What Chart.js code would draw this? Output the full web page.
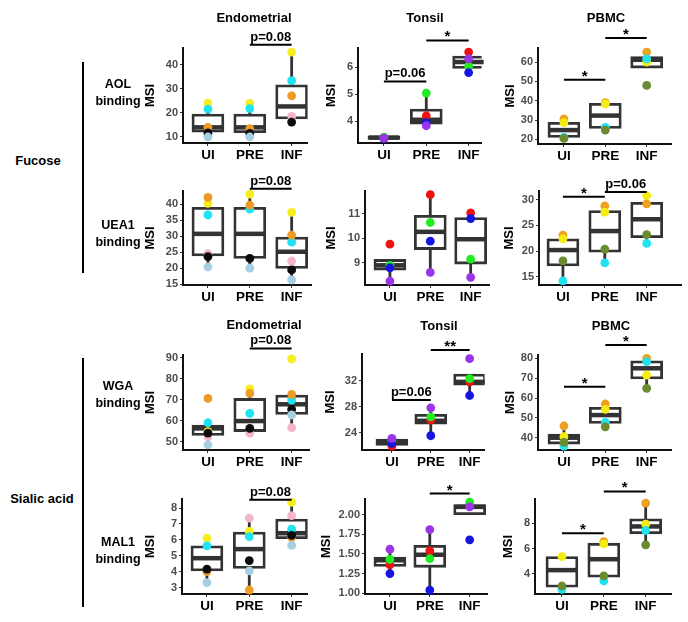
<!DOCTYPE html>
<html>
<head>
<meta charset="utf-8">
<script src="https://cdn.jsdelivr.net/npm/chart.js@4.4.1/dist/chart.umd.min.js"></script>
<style>
body{margin:0;background:#fff;}
#wrap{position:relative;width:688px;height:622px;overflow:hidden;font-family:"Liberation Sans",Arial,sans-serif;font-weight:bold;color:#000;}
#wrap canvas{position:absolute;}
.ttl{position:absolute;font-size:13px;white-space:nowrap;transform:translate(-50%,-50%);}
.rowlbl{position:absolute;font-size:12.5px;text-align:center;line-height:17px;white-space:nowrap;transform:translate(-50%,-50%);}
.vline{position:absolute;width:2px;background:#000;}
</style>
</head>
<body>
<div id="wrap"></div>
<script>
const groups = ['UI', 'PRE', 'INF'];

// one colour per donor, values below follow the same order
const endoColors = ['#f6ee1e', '#1fe3f0', '#ee9b26', '#f3b6c7', '#0b0b0b', '#a5cfe2'];
const tonsilColors = ['#ee1313', '#21ec21', '#1515df', '#9b35e8'];
const pbmcColors = ['#eea021', '#f4ec12', '#21e3f0', '#6a8b2f'];

// ---- AOL binding ----
const aolEndo = [[24.1, 21.6, 14.0, null, 11.7, 10.0], [24.0, 21.8, 13.5, null, 11.5, 10.0], [45.3, 33.4, 27.1, 18.6, 16.2, null]];
const aolEndoBox = [[10, 12, 14, 19.5, 24], [10, 11.8, 14, 19.5, 24], [16.2, 17.5, 22.7, 31.7, 45.3]];
const aolEndoTicks = ['10', '20', '30', '40'];
const aolEndoRange = [7.5, 47];
const aolEndoSig = [[2, 3, 48.3, 'p=0.08']];

const aolTon = [[3.40, 3.42, 3.36, 3.38], [4.21, 5.05, 3.95, 3.84], [6.57, 6.04, 5.81, 6.32]];
const aolTonBox = [[3.33, 3.33, 3.40, 3.47, 3.47], [3.84, 3.90, 4.06, 4.46, 5.05], [5.81, 5.96, 6.20, 6.42, 6.57]];
const aolTonTicks = ['4', '5', '6'];
const aolTonRange = [3.2, 6.72];
const aolTonSig = [[1, 2, 5.48, 'p=0.06'], [2, 3, 7.0, '*']];

const aolPb = [[30.6, 28.7, 21.0, 20.5], [39.0, 38.4, 26.2, 24.8], [65.2, 60.0, 61.7, 47.9]];
const aolPbBox = [[20.5, 21, 24.8, 28.8, 30.6], [24.8, 25.7, 32.3, 38.7, 39], [56.9, 56.9, 61.2, 62.9, 65.2]];
const aolPbTicks = ['20', '30', '40', '50', '60'];
const aolPbRange = [17.6, 67.3];
const aolPbSig = [[1, 2, 50.8, '*'], [2, 3, 72.5, '*']];

// ---- UEA1 binding ----
const ueaEndo = [[40.3, 36.7, 42.2, 24.6, 23.7, 20.5], [43.2, 38.5, 39.8, null, 23.1, 20.1], [37.5, 28.2, 30.4, 22.3, 19.5, 16.4]];
const ueaEndoBox = [[20.5, 23.9, 30.8, 39.1, 42.2], [20.1, 23.1, 30.8, 39.1, 43.2], [16.4, 20.0, 25.2, 29.8, 37.5]];
const ueaEndoTicks = ['15', '20', '25', '30', '35', '40'];
const ueaEndoRange = [14.8, 44.2];
const ueaEndoSig = [[2, 3, 44.9, 'p=0.08']];

const ueaTon = [[9.76, 8.9, 8.8, 8.26], [11.77, 10.64, 9.88, 8.61], [11.03, 9.15, 10.8, 8.41]];
const ueaTonBox = [[8.26, 8.7, 8.9, 9.14, 9.14], [8.61, 9.54, 10.26, 10.93, 11.77], [8.41, 8.95, 9.96, 10.84, 11.03]];
const ueaTonTicks = ['9', '10', '11'];
const ueaTonRange = [8.1, 11.92];
const ueaTonSig = [];

const ueaPb = [[23.1, 22.4, 14.2, 18.1], [28.8, 27.6, 17.7, 20.4], [29.2, 30.8, 21.5, 23.2]];
const ueaPbBox = [[14.2, 17.1, 20.2, 22.4, 23.1], [17.7, 19.8, 23.9, 27.9, 28.8], [21.5, 22.6, 26.2, 29.5, 30.8]];
const ueaPbTicks = ['15', '20', '25', '30'];
const ueaPbRange = [13.4, 31.7];
const ueaPbSig = [[1, 2, 30.6, '*'], [2, 3, 31.5, 'p=0.06']];

// ---- WGA binding ----
const wgaEndo = [[54.8, 59.0, 70.6, 52.4, 54.0, 48.4], [75.1, 63.5, 73.0, 54.0, 56.3, null], [89.4, 69.8, 72.5, 56.7, 65.4, 62.7]];
const wgaEndoBox = [[48.4, 52.9, 56.3, 57.9, 59], [54, 54.8, 59.8, 70.6, 75.1], [56.7, 63, 67.8, 72.2, 72.2]];
const wgaEndoTicks = ['50', '60', '70', '80', '90'];
const wgaEndoRange = [46, 91.3];
const wgaEndoSig = [[2, 3, 94.4, 'p=0.08']];

const wgaTon = [[21.9, 22.7, 22.3, 23.1], [25.9, 26.4, 23.5, 27.8], [31.8, 32.3, 29.7, 35.4]];
const wgaTonBox = [[21.9, 22.0, 22.55, 23.0, 23.1], [23.5, 25.3, 25.8, 26.8, 27.8], [29.7, 31.3, 31.8, 33.0, 33.0]];
const wgaTonTicks = ['24', '28', '32'];
const wgaTonRange = [21.3, 36.1];
const wgaTonSig = [[1, 2, 29.0, 'p=0.06'], [2, 3, 36.7, '**']];

const wgaPb = [[45.9, 40.5, 35.8, 37.6], [57.0, 54.3, 47.7, 45.5], [80.0, 71.6, 78.3, 64.9]];
const wgaPbBox = [[35.8, 36.8, 40.0, 41.8, 45.9], [45.5, 47.2, 51.4, 55.3, 57], [64.9, 69.6, 75, 78.8, 80]];
const wgaPbTicks = ['40', '50', '60', '70', '80'];
const wgaPbRange = [33.8, 81.7];
const wgaPbSig = [[1, 2, 65.7, '*'], [2, 3, 86.7, '*']];

// ---- MAL1 binding ----
const malEndo = [[6.11, 5.63, 4.01, null, 4.16, 3.32], [6.53, 6.21, 2.85, 7.37, 4.7, 4.05], [8.36, 6.68, 6.15, 7.52, 6.28, 5.65]];
const malEndoBox = [[3.32, 4.05, 4.85, 5.63, 6.11], [2.85, 4.2, 5.42, 6.49, 7.37], [5.65, 6.07, 6.42, 7.31, 8.36]];
const malEndoTicks = ['3', '4', '5', '6', '7', '8'];
const malEndoRange = [2.6, 8.57];
const malEndoSig = [[2, 3, 8.53, 'p=0.08']];

const malTon = [[1.36, 1.43, 1.25, 1.56], [1.54, 1.44, 1.04, 1.81], [2.12, 2.16, 1.68, 2.10]];
const malTonBox = [[1.25, 1.34, 1.42, 1.46, 1.56], [1.04, 1.33, 1.49, 1.61, 1.81], [2.0, 2.0, 2.1, 2.13, 2.16]];
const malTonTicks = ['1.00', '1.25', '1.50', '1.75', '2.00'];
const malTonRange = [0.99, 2.2];
const malTonSig = [[2, 3, 2.27, '*']];

const malPb = [[null, 5.37, 2.79, 3.05], [6.55, 6.37, 3.45, 3.84], [9.58, 7.92, 7.42, 6.29]];
const malPbBox = [[2.95, 2.95, 4.3, 5.37, 5.37], [3.74, 3.74, 5.16, 6.42, 6.42], [6.29, 7.16, 7.74, 8.34, 9.58]];
const malPbTicks = ['4', '6', '8'];
const malPbRange = [2.42, 9.9];
const malPbSig = [[1, 2, 7.21, '*'], [2, 3, 10.5, '*']];

// panel placement: axis x, axis end x, axis top, axis bottom, UI centre, INF centre, y-axis width
const panels = [
  {pts: aolEndo, box: aolEndoBox, ticks: aolEndoTicks, range: aolEndoRange, sig: aolEndoSig, colors: endoColors, geo: [183, 308, 48, 143, 208, 292, 43]},
  {pts: aolTon, box: aolTonBox, ticks: aolTonTicks, range: aolTonRange, sig: aolTonSig, colors: tonsilColors, geo: [358, 482, 48, 143, 384, 469, 37]},
  {pts: aolPb, box: aolPbBox, ticks: aolPbTicks, range: aolPbRange, sig: aolPbSig, colors: pbmcColors, geo: [538, 672, 48, 144, 564, 647, 38]},
  {pts: ueaEndo, box: ueaEndoBox, ticks: ueaEndoTicks, range: ueaEndoRange, sig: ueaEndoSig, colors: endoColors, geo: [183, 312, 191, 285, 208, 292, 43]},
  {pts: ueaTon, box: ueaTonBox, ticks: ueaTonTicks, range: ueaTonRange, sig: ueaTonSig, colors: tonsilColors, geo: [365, 490, 191, 285, 390, 471, 44]},
  {pts: ueaPb, box: ueaPbBox, ticks: ueaPbTicks, range: ueaPbRange, sig: ueaPbSig, colors: pbmcColors, geo: [539, 682, 191, 285, 563, 647, 40]},
  {pts: wgaEndo, box: wgaEndoBox, ticks: wgaEndoTicks, range: wgaEndoRange, sig: wgaEndoSig, colors: endoColors, geo: [183, 310, 355, 450, 208, 292, 43]},
  {pts: wgaTon, box: wgaTonBox, ticks: wgaTonTicks, range: wgaTonRange, sig: wgaTonSig, colors: tonsilColors, geo: [362, 485, 354, 450, 392, 470, 42]},
  {pts: wgaPb, box: wgaPbBox, ticks: wgaPbTicks, range: wgaPbRange, sig: wgaPbSig, colors: pbmcColors, geo: [538, 672, 355, 450, 564, 647, 38]},
  {pts: malEndo, box: malEndoBox, ticks: malEndoTicks, range: malEndoRange, sig: malEndoSig, colors: endoColors, geo: [182, 308, 499, 594, 207, 292, 42]},
  {pts: malTon, box: malTonBox, ticks: malTonTicks, range: malTonRange, sig: malTonSig, colors: tonsilColors, geo: [365, 488, 499, 594, 390, 470, 49]},
  {pts: malPb, box: malPbBox, ticks: malPbTicks, range: malPbRange, sig: malPbSig, colors: pbmcColors, geo: [535, 672, 499, 594, 562, 646, 37]}
];

const PADTOP = 40, PADR = 4, XH = 24, BOXW = 32;
const FONT = '"Liberation Sans", Arial, sans-serif';
Chart.defaults.font.family = FONT;

const wrap = document.getElementById('wrap');

// whiskers behind the boxes, medians over them, significance bars on top
function boxPlugin(p) {
  return {
    id: 'boxExtras',
    beforeDatasetsDraw(chart) {
      const {ctx, scales: {x, y}} = chart;
      ctx.save();
      ctx.strokeStyle = '#333';
      ctx.lineWidth = 2.8;
      p.box.forEach((b, i) => {
        const px = x.getPixelForValue(i + 1);
        ctx.beginPath();
        ctx.moveTo(px, y.getPixelForValue(b[0]));
        ctx.lineTo(px, y.getPixelForValue(b[4]));
        ctx.stroke();
      });
      ctx.restore();
    },
    afterDatasetDraw(chart, args) {
      if (args.index !== 1) return;
      const {ctx, scales: {x, y}} = chart;
      ctx.save();
      ctx.strokeStyle = '#333';
      ctx.lineWidth = 4.5;
      p.box.forEach((b, i) => {
        const px = x.getPixelForValue(i + 1);
        const py = y.getPixelForValue(b[2]);
        ctx.beginPath();
        ctx.moveTo(px - BOXW / 2 + 1, py);
        ctx.lineTo(px + BOXW / 2 - 1, py);
        ctx.stroke();
      });
      ctx.restore();
    },
    afterDraw(chart) {
      const {ctx, scales: {x, y}} = chart;
      ctx.save();
      ctx.strokeStyle = '#000';
      ctx.fillStyle = '#000';
      ctx.lineWidth = 2;
      ctx.textAlign = 'center';
      ctx.textBaseline = 'alphabetic';
      p.sig.forEach(s => {
        const x1 = x.getPixelForValue(s[0]);
        const x2 = x.getPixelForValue(s[1]);
        const py = y.getPixelForValue(s[2]);
        ctx.beginPath();
        ctx.moveTo(x1, py);
        ctx.lineTo(x2, py);
        ctx.stroke();
        const star = s[3].charAt(0) === '*';
        ctx.font = 'bold ' + (star ? 15 : 13) + 'px ' + FONT;
        ctx.fillText(s[3], (x1 + x2) / 2, star ? py + 1 : py - 4);
      });
      ctx.restore();
    }
  };
}

panels.forEach(p => {
  const [ax, ex, top, bottom, c1, c3, yw] = p.geo;
  const step = (c3 - c1) / 2;
  const xmin = 1 - (c1 - ax) / step;
  const xmax = 3 + (ex - c3) / step;

  const cv = document.createElement('canvas');
  cv.width = yw + (ex - ax) + PADR;
  cv.height = PADTOP + (bottom - top) + XH;
  cv.style.left = (ax - yw) + 'px';
  cv.style.top = (top - PADTOP) + 'px';
  wrap.appendChild(cv);

  const ptData = [], ptColors = [];
  p.pts.forEach((vals, g) => {
    vals.forEach((v, d) => {
      if (v === null) return;
      ptData.push({x: g + 1, y: v});
      ptColors.push(p.colors[d]);
    });
  });

  new Chart(cv, {
    type: 'scatter',
    data: {
      datasets: [
        {
          type: 'scatter',
          data: ptData,
          pointBackgroundColor: ptColors,
          pointBorderColor: ptColors,
          pointBorderWidth: 0,
          pointRadius: 4.4,
          clip: false
        },
        {
          type: 'bar',
          data: p.box.map((b, i) => ({x: i + 1, y: [b[1], b[3]]})),
          backgroundColor: '#fff',
          borderColor: '#333',
          borderWidth: 2.8,
          borderSkipped: false,
          barThickness: BOXW,
          grouped: false
        }
      ]
    },
    options: {
      responsive: false,
      animation: false,
      events: [],
      layout: {padding: {top: PADTOP, right: PADR, left: 0, bottom: 0}},
      plugins: {legend: {display: false}, tooltip: {enabled: false}},
      scales: {
        x: {
          type: 'linear',
          min: xmin,
          max: xmax,
          offset: false,
          bounds: 'data',
          afterBuildTicks: s => { s.ticks = groups.map((g, i) => ({value: i + 1})); },
          afterFit: s => { s.height = XH; },
          ticks: {
            callback: v => groups[Math.round(v) - 1],
            font: {size: 13.5, weight: 'bold'},
            color: '#000',
            padding: 1,
            autoSkip: false,
            maxRotation: 0
          },
          grid: {drawOnChartArea: false, offset: false, tickLength: 3, color: '#333'},
          border: {color: '#111', width: 2}
        },
        y: {
          type: 'linear',
          min: p.range[0],
          max: p.range[1],
          bounds: 'data',
          afterBuildTicks: s => { s.ticks = p.ticks.map(t => ({value: parseFloat(t)})); },
          afterFit: s => { s.width = yw; },
          ticks: {
            callback: (v, i) => p.ticks[i],
            font: {size: 11, weight: 'bold'},
            color: '#4d4d4d',
            padding: 2,
            autoSkip: false
          },
          title: {display: true, text: 'MSI', font: {size: 13, weight: 'bold'}, color: '#000', padding: {top: 3, bottom: 3}},
          grid: {drawOnChartArea: false, tickLength: 3, color: '#333'},
          border: {color: '#111', width: 2}
        }
      }
    },
    plugins: [boxPlugin(p)]
  });
});

// titles and side labels
const titles = [['Endometrial', 254, 17], ['Tonsil', 425, 17], ['PBMC', 606, 17],
                ['Endometrial', 264, 324], ['Tonsil', 439, 325], ['PBMC', 611, 325]];
titles.forEach(t => {
  const d = document.createElement('div');
  d.className = 'ttl';
  d.textContent = t[0];
  d.style.left = t[1] + 'px';
  d.style.top = t[2] + 'px';
  wrap.appendChild(d);
});

const rowLabels = [['AOL', 118, 93], ['UEA1', 118, 234], ['WGA', 118, 395], ['MAL1', 118, 551]];
rowLabels.forEach(r => {
  const d = document.createElement('div');
  d.className = 'rowlbl';
  d.innerHTML = r[0] + '<br>binding';
  d.style.left = r[1] + 'px';
  d.style.top = r[2] + 'px';
  wrap.appendChild(d);
});

const sideGroups = [['Fucose', 38, 160, 62, 273], ['Sialic acid', 42, 498, 358, 607]];
sideGroups.forEach(s => {
  const d = document.createElement('div');
  d.className = 'ttl';
  d.textContent = s[0];
  d.style.left = s[1] + 'px';
  d.style.top = s[2] + 'px';
  wrap.appendChild(d);
  const l = document.createElement('div');
  l.className = 'vline';
  l.style.left = '82px';
  l.style.top = s[3] + 'px';
  l.style.height = (s[4] - s[3]) + 'px';
  wrap.appendChild(l);
});
</script>
</body>
</html>
